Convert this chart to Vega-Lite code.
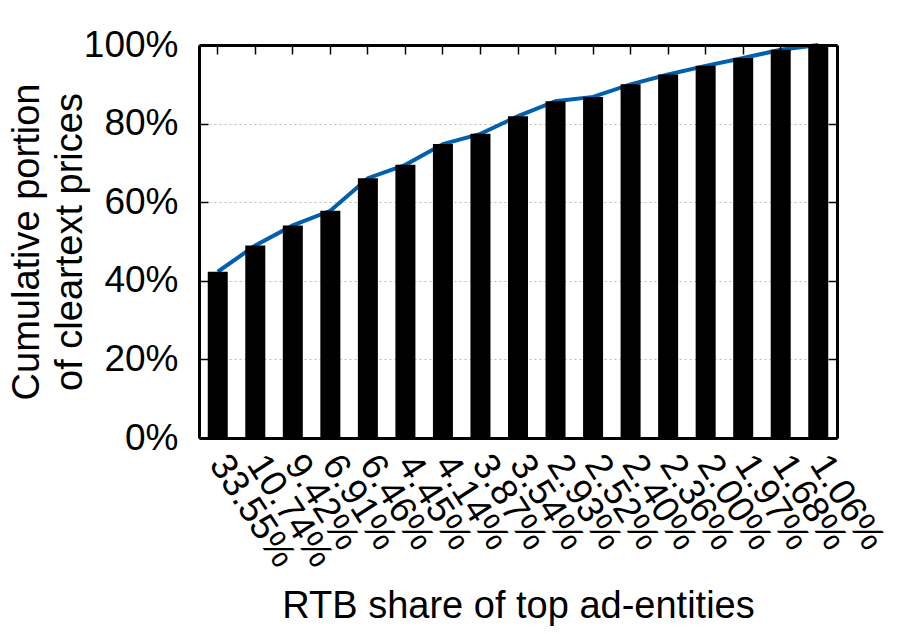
{
  "$schema": "https://vega.github.io/schema/vega-lite/v6.json",
  "width": 638,
  "height": 393,
  "autosize": {"type": "none"},
  "padding": {"left": 199, "top": 45, "right": 68, "bottom": 196},
  "background": "white",
  "config": {
    "view": {"stroke": null},
    "font": "Liberation Sans",
    "axis": {"labelFont": "Liberation Sans", "titleFont": "Liberation Sans", "labelColor": "black", "titleColor": "black", "titleFontWeight": "normal", "domainColor": "black", "tickColor": "black"}
  },
  "data": {"values": [
    {"i": 1, "share": "33.55%", "cum": 42.3},
    {"i": 2, "share": "10.74%", "cum": 49.0},
    {"i": 3, "share": "9.42%", "cum": 54.1},
    {"i": 4, "share": "6.91%", "cum": 57.8},
    {"i": 5, "share": "6.46%", "cum": 66.1},
    {"i": 6, "share": "4.45%", "cum": 69.5},
    {"i": 7, "share": "4.14%", "cum": 74.8},
    {"i": 8, "share": "3.87%", "cum": 77.4},
    {"i": 9, "share": "3.54%", "cum": 81.9},
    {"i": 10, "share": "2.93%", "cum": 85.7},
    {"i": 11, "share": "2.52%", "cum": 86.8},
    {"i": 12, "share": "2.40%", "cum": 90.0},
    {"i": 13, "share": "2.36%", "cum": 92.5},
    {"i": 14, "share": "2.00%", "cum": 94.7},
    {"i": 15, "share": "1.97%", "cum": 96.7},
    {"i": 16, "share": "1.68%", "cum": 98.8},
    {"i": 17, "share": "1.06%", "cum": 100.0}
  ]},
  "resolve": {"axis": {"x": "independent", "y": "independent"}},
  "layer": [
    {
      "mark": {"type": "line", "color": "#0060ad", "strokeWidth": 4},
      "encoding": {
        "x": {"field": "share", "type": "ordinal", "sort": {"field": "i"},
          "scale": {"paddingInner": 0.467, "paddingOuter": 0.233},
          "axis": {"orient": "top", "labels": false, "title": null, "domainWidth": 3, "tickSize": -9, "tickWidth": 1.5, "zindex": 1}},
        "y": {"field": "cum", "type": "quantitative", "scale": {"domain": [0, 100], "nice": false},
          "axis": {"orient": "right", "labels": false, "title": null, "values": [0, 20, 40, 60, 80, 100], "domainWidth": 3, "tickSize": -9, "tickWidth": 1.5, "grid": false, "zindex": 1}}
      }
    },
    {
      "mark": {"type": "bar", "color": "black"},
      "encoding": {
        "x": {"field": "share", "type": "ordinal", "sort": {"field": "i"},
          "scale": {"paddingInner": 0.467, "paddingOuter": 0.233},
          "axis": {"orient": "bottom", "title": "RTB share of top ad-entities", "titleFontSize": 38, "titlePadding": 14,
            "labelFontSize": 37, "labelAngle": 57, "labelAlign": "left", "labelBaseline": "middle", "labelPadding": 29,
            "domainWidth": 3, "tickSize": -9, "tickWidth": 1.5, "zindex": 1}},
        "y": {"field": "cum", "type": "quantitative",
          "axis": {"orient": "left", "title": ["Cumulative portion", "of cleartext prices"], "titleFontSize": 38, "titleLineHeight": 43, "titlePadding": -6,
            "values": [0, 20, 40, 60, 80, 100], "labelExpr": "datum.value + '%'", "labelFontSize": 37, "labelPadding": 30,
            "domainWidth": 3, "tickSize": -9, "tickWidth": 1.5,
            "grid": true, "gridColor": "#bbbbbb", "gridDash": [2, 3], "gridWidth": 1, "zindex": 0}}
      }
    }
  ]
}
